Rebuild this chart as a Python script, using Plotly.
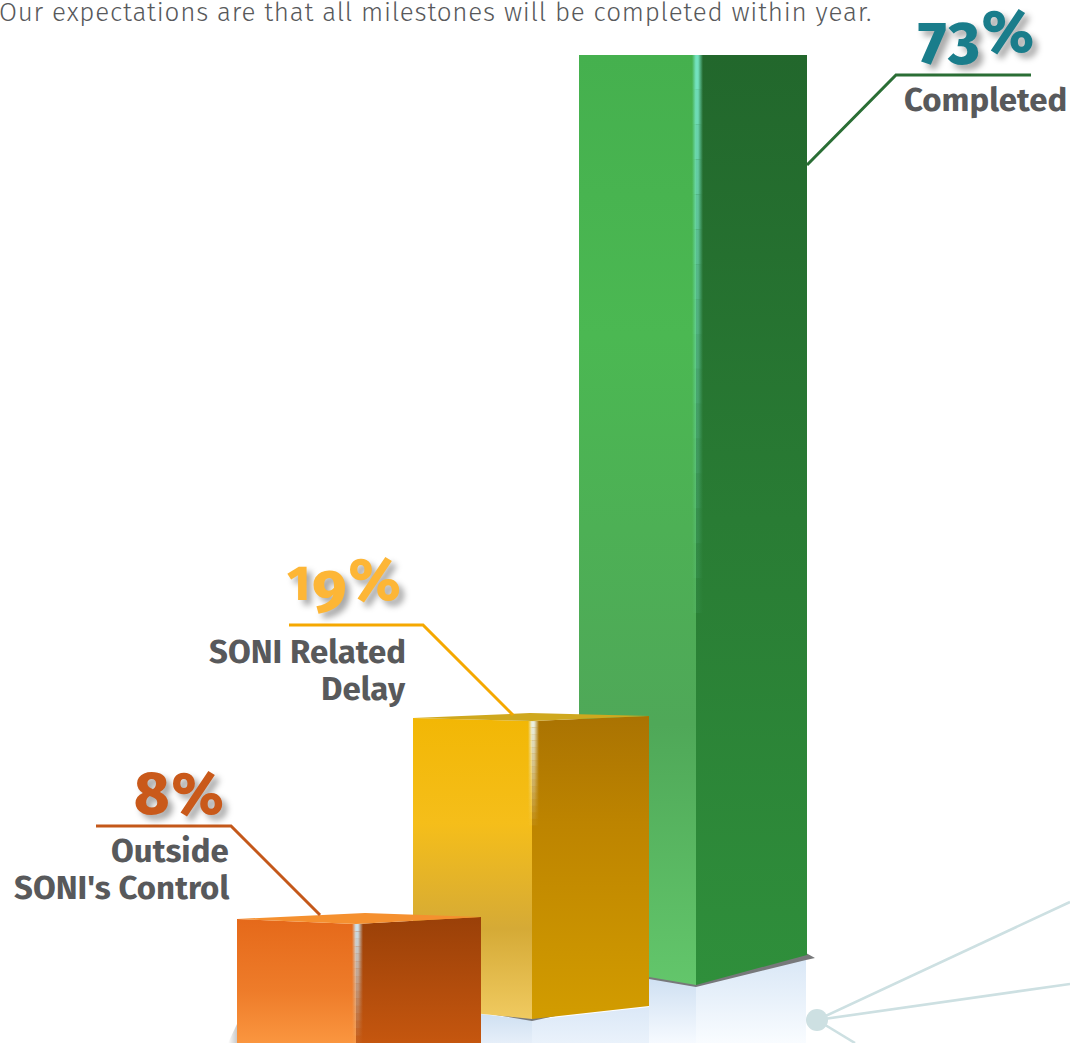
import plotly.graph_objects as go

# Milestone status shares
categories = [["Outside", "SONI's Control"], ["SONI Related", "Delay"], ["Completed"]]
values = [8, 19, 73]
note = "Our expectations are that all milestones will be completed within year."

# Perspective of the three columns: nearer columns get more height per percent
unit_height = [17.5, 15.68, 12.74]
base_front = [1064, 1019, 985]
base_left = [1050, 1007, 965]
base_right = [1050, 1006, 955]
top_rise_left = [5, 3, 0]
top_rise_right = [7, 5, 0]
top_back_rise = [11, 8, 0]
top_back_x = [365, 530, 696]
x_left = [237, 413, 579]
x_front = [356, 532, 696]
x_right = [481, 649, 807]

# Face colours, each listed top to bottom
left_face = [
    [[0, "#e5691a"], [0.5, "#ee7c2a"], [1, "#ffa048"]],
    [[0, "#f2b705"], [0.35, "#f5be1a"], [0.7, "#d5aa36"], [1, "#f0ca60"]],
    [[0, "#45b04e"], [0.3, "#4bb852"], [0.72, "#4fa858"], [1, "#63c66b"]],
]
right_face = [
    [[0, "#9a4008"], [1, "#cc5a10"]],
    [[0, "#aa7302"], [0.35, "#bd8400"], [1, "#d29c00"]],
    [[0, "#22672c"], [0.5, "#297c34"], [1, "#2f8f3b"]],
]
top_face = ["#f5902f", "#cfa81e", None]
edge_light = ["205,225,235", "235,240,225", "115,225,190"]
edge_reach = [0.85, 0.35, 0.6]

label_colors = ["#c9591a", "#fdb636", "#1a7d8b"]
leader_colors = ["#c4581a", "#f5a800", "#2a6e35"]
leaders_x = [[320, 231, 96], [513, 423, 289], [807, 896, 1031]]
leaders_y = [[915, 826, 826], [715, 625, 625], [165, 75, 75]]
value_right = [226, 403, 1036]
value_mid = [794, 586, 38]
name_right = [231, 408, 1069]
name_first_line = [851, 652, 100]
name_line_gap = 37

TEXT = "#58595b"
FONT = "Fira Sans, Noto Sans, sans-serif"
VALUE_SIZE = 60

fig = go.Figure()


def polygon(xs, ys, fill=None, gradient=None):
    style = dict(fillgradient=gradient) if gradient else dict(fillcolor=fill)
    fig.add_trace(go.Scatter(
        x=xs + xs[:1], y=ys + ys[:1], mode="lines", fill="toself",
        line=dict(width=0), hoverinfo="skip", showlegend=False, **style))


def vertical(stops):
    # Gradient stops run top to bottom; the fill scale runs bottom to top
    return dict(type="vertical", colorscale=[[1 - p, c] for p, c in reversed(stops)])


def horizontal(stops):
    return dict(type="horizontal", colorscale=stops)


def oldstyle(value):
    # Old-style figures: 3, 4, 5, 7, 9 hang below the baseline, 0, 1, 2 sit at x-height
    parts = []
    for ch in str(value):
        if ch in "34579":
            parts.append(f'<span style="baseline-shift:-12px;letter-spacing:2px">{ch}</span>')
        elif ch in "012":
            parts.append(f'<span style="font-size:{round(VALUE_SIZE * 0.82)}px;letter-spacing:2px">{ch}</span>')
        else:
            parts.append(f'<span style="letter-spacing:2px">{ch}</span>')
    return "".join(parts) + "%"


# Pale floor reflections under the two rear columns
polygon([649, 696, 696, 649], [978, 986, 1043, 1043],
        gradient=vertical([[0, "#cfe0f2"], [1, "#f6faff"]]))
polygon([696, 806, 806, 696], [986, 958, 1043, 1043],
        gradient=vertical([[0, "#d9e7f6"], [1, "#f9fcff"]]))
polygon([481, 532, 532, 481], [1014, 1020, 1043, 1043],
        gradient=vertical([[0, "#cfe0f2"], [1, "#e6eff9"]]))
polygon([532, 649, 649, 532], [1020, 1007, 1043, 1043],
        gradient=vertical([[0, "#dbe8f7"], [1, "#eaf2fb"]]))

# Contact shadows along the column bases
polygon([649, 696, 806, 815, 806, 696, 649],
        [975, 983, 953, 958, 960, 987, 979], fill="#77787a")
polygon([490, 532, 560, 532], [1014, 1018, 1015, 1021], fill="#77787a")
polygon([228, 237, 237], [1043, 1024, 1043],
        gradient=horizontal([[0, "rgba(120,120,120,0)"], [1, "rgba(120,120,120,0.4)"]]))

# Columns, drawn rear to front
for i in [2, 1, 0]:
    top_front = base_front[i] - values[i] * unit_height[i]
    top_l = top_front - top_rise_left[i]
    top_r = top_front - top_rise_right[i]
    polygon([x_left[i], x_front[i], x_front[i], x_left[i]],
            [top_l, top_front, base_front[i], base_left[i]],
            gradient=vertical(left_face[i]))
    polygon([x_front[i], x_right[i], x_right[i], x_front[i]],
            [top_front, top_r, base_right[i], base_front[i]],
            gradient=vertical(right_face[i]))
    if top_face[i]:
        polygon([x_left[i], top_back_x[i], x_right[i], x_front[i]],
                [top_l, top_front - top_back_rise[i], top_r, top_front], fill=top_face[i])
    # Soft highlight down the front edge, fading in small steps toward the base
    steps = 16
    reach = (base_front[i] - top_front) * edge_reach[i]
    tint = edge_light[i]
    for step in range(steps):
        y0 = top_front + reach * step / steps
        y1 = top_front + reach * (step + 1) / steps
        strength = round(1 - step / steps, 3)
        polygon([x_front[i] - 4, x_front[i] + 7, x_front[i] + 7, x_front[i] - 4], [y0, y0, y1, y1],
                gradient=horizontal([[0, f"rgba({tint},0)"],
                                     [0.35, f"rgba({tint},{strength})"],
                                     [0.55, f"rgba({tint},{strength})"],
                                     [1, f"rgba({tint},0)"]]))

# Leader lines from each column to its label
for xs, ys, color in zip(leaders_x, leaders_y, leader_colors):
    fig.add_trace(go.Scatter(x=xs, y=ys, mode="lines", line=dict(color=color, width=3),
                             hoverinfo="skip", showlegend=False))

# Connector node and its spokes in the lower right
for end_x, end_y in [(1070, 902), (1070, 984), (855, 1043)]:
    fig.add_trace(go.Scatter(x=[817, end_x], y=[1020, end_y], mode="lines",
                             line=dict(color="#cde0e2", width=2.6),
                             hoverinfo="skip", showlegend=False))
fig.add_trace(go.Scatter(x=[817], y=[1020], mode="markers",
                         marker=dict(color="#cde0e2", size=22),
                         hoverinfo="skip", showlegend=False))

annotations = [dict(x=0, xshift=-3, y=12,
                    text=f'<span style="letter-spacing:0.78px">{note}</span>',
                    xanchor="left", yanchor="middle", showarrow=False,
                    font=dict(family=FONT, size=26, weight=300, color=TEXT))]
for i, value in enumerate(values):
    annotations.append(dict(
        x=value_right[i], y=value_mid[i],
        text=oldstyle(value),
        xanchor="right", yanchor="middle", showarrow=False,
        font=dict(family=FONT, size=VALUE_SIZE, weight=800, color=label_colors[i],
                  shadow="5px 5px 6px rgba(0,0,0,0.35)")))
    for line_no, line in enumerate(categories[i]):
        annotations.append(dict(
            x=name_right[i], y=name_first_line[i] + line_no * name_line_gap,
            text=line, xanchor="right", yanchor="middle", showarrow=False,
            font=dict(family=FONT, size=33, weight=700, color=TEXT)))

fig.update_layout(
    width=1070, height=1043, margin=dict(l=0, r=0, t=0, b=0),
    paper_bgcolor="white", plot_bgcolor="white",
    xaxis=dict(range=[0, 1070], visible=False, fixedrange=True),
    yaxis=dict(range=[1043, 0], visible=False, fixedrange=True),
    annotations=annotations,
)
fig.write_html("out.html")
